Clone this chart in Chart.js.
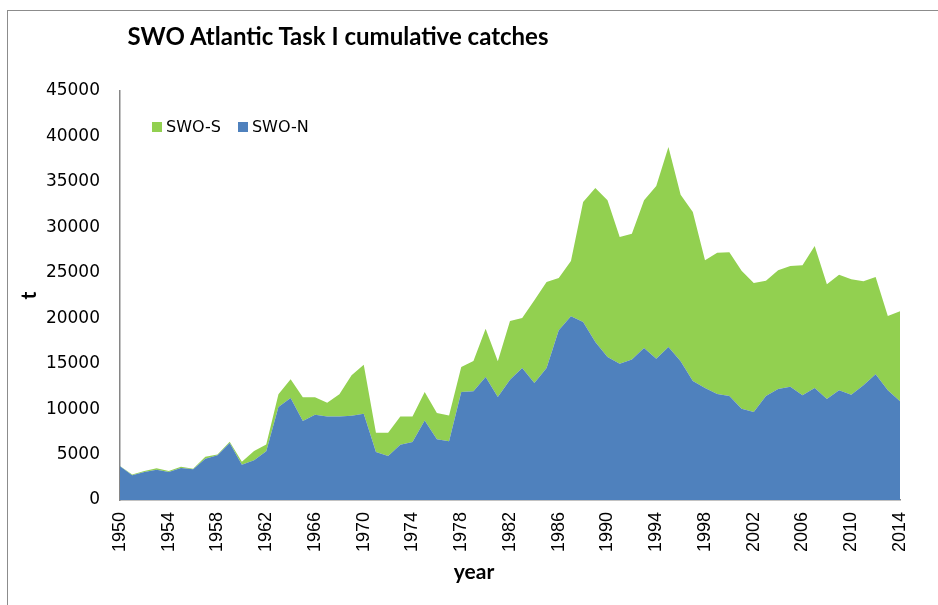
<!DOCTYPE html>
<html lang="en">
<head>
    <meta charset="UTF-8">
    <title>SWO Atlantic Task I cumulative catches</title>
    <script src="https://cdn.jsdelivr.net/npm/chart.js"></script>
    <style>
        body { margin: 0; background: #fff; overflow: hidden; }
        #wrap { position: relative; width: 938px; height: 605px; }
        #frame {
            position: absolute; left: 7px; top: 10px;
            width: 1000px; height: 700px;
            border: 1.5px solid #8c8c8c;
        }
        #chartTitle {
            position: absolute; left: 0; top: 21px; width: 676px;
            text-align: center;
            font: 700 24px Lato, sans-serif; color: #000;
        }
        #xTitle {
            position: absolute; left: 374px; top: 558px; width: 200px;
            text-align: center;
            font: 700 21px Lato, sans-serif; color: #000;
        }
        #legend {
            position: absolute; left: 152px; top: 117px;
            font: 16px 'DejaVu Sans', sans-serif; color: #000;
            display: flex; align-items: center; line-height: 20px;
        }
        #legend span.box { display: inline-block; width: 10px; height: 10px; margin-right: 4px; }
        #legend span.item { display: flex; align-items: center; margin-right: 17px; }
        #catchChart { position: absolute; left: 0; top: 0; }
    </style>
</head>
<body>
<div id="wrap">
    <div id="frame"></div>
    <canvas id="catchChart" width="938" height="605"></canvas>
    <div id="chartTitle">SWO Atlantic Task I cumulative catches</div>
    <div id="xTitle">year</div>
    <div id="legend"></div>
</div>

<script>
    // 연도
    const years = [
        '1950', '1951', '1952', '1953', '1954', '1955', '1956', '1957', '1958', '1959',
        '1960', '1961', '1962', '1963', '1964', '1965', '1966', '1967', '1968', '1969',
        '1970', '1971', '1972', '1973', '1974', '1975', '1976', '1977', '1978', '1979',
        '1980', '1981', '1982', '1983', '1984', '1985', '1986', '1987', '1988', '1989',
        '1990', '1991', '1992', '1993', '1994', '1995', '1996', '1997', '1998', '1999',
        '2000', '2001', '2002', '2003', '2004', '2005', '2006', '2007', '2008', '2009',
        '2010', '2011', '2012', '2013', '2014'
    ];

    // SWO-N (t)
    const swoN = [
        3710, 2720, 3080, 3340, 3080, 3520, 3370, 4550, 4910, 6270,
        3890, 4360, 5350, 10230, 11220, 8690, 9390, 9200, 9200, 9280,
        9500, 5280, 4840, 6090, 6380, 8760, 6680, 6460, 11880, 11960,
        13530, 11330, 13240, 14520, 12870, 14520, 18670, 20210, 19580, 17380,
        15730, 15000, 15460, 16720, 15550, 16830, 15260, 13090, 12320, 11660,
        11440, 10050, 9680, 11440, 12210, 12470, 11520, 12320, 11110, 12070,
        11590, 12620, 13830, 12070, 10860
    ];

    // SWO-S (t)
    const swoS = [
        40, 80, 120, 160, 120, 130, 80, 200, 90, 130,
        310, 1030, 770, 1400, 2060, 2610, 1910, 1510, 2430, 4440,
        5390, 2130, 2550, 3110, 2820, 3120, 2890, 2850, 2750, 3330,
        5320, 3930, 6450, 5500, 9100, 9460, 5750, 6090, 13210, 16950,
        17240, 13940, 13840, 16250, 19000, 22010, 18330, 18600, 14050, 15550,
        15810, 15180, 14190, 12690, 13060, 13280, 14300, 15630, 12620, 12720,
        12690, 11440, 10700, 8170, 9900
    ];

    const blue = '#4F81BD';
    const green = '#92D050';
    const axisGrey = '#868686';

    const ctx = document.getElementById('catchChart').getContext('2d');

    const chart = new Chart(ctx, {
        type: 'line',
        data: {
            labels: years,
            datasets: [
                {
                    label: 'SWO-N',
                    data: swoN,
                    backgroundColor: blue,
                    borderColor: blue,
                    borderWidth: 0,
                    pointRadius: 0,
                    tension: 0,
                    fill: 'origin'
                },
                {
                    label: 'SWO-S',
                    data: swoS,
                    backgroundColor: green,
                    borderColor: green,
                    borderWidth: 0,
                    pointRadius: 0,
                    tension: 0,
                    fill: '-1'
                }
            ]
        },
        options: {
            responsive: false,
            animation: false,
            layout: {
                padding: { left: 17, top: 91, right: 38, bottom: 0 }
            },
            plugins: {
                title: { display: false },
                tooltip: { enabled: false },
                legend: { display: false }
            },
            scales: {
                x: {
                    offset: false,
                    grid: { display: false, drawTicks: false },
                    border: { display: true, color: axisGrey, width: 1.5 },
                    ticks: {
                        autoSkip: false,
                        maxRotation: 90,
                        minRotation: 90,
                        padding: 12,
                        color: '#000',
                        font: { family: 'Liberation Sans', size: 18 },
                        callback: function (value, index) {
                            return index % 4 === 0 ? this.getLabelForValue(value) : null;
                        }
                    },
                    afterFit: (scale) => { scale.height = 105; }
                },
                y: {
                    stacked: true,
                    min: 0,
                    max: 45000,
                    grid: { display: false, drawTicks: false },
                    border: { display: true, color: axisGrey, width: 1.5 },
                    ticks: {
                        stepSize: 5000,
                        padding: 20,
                        color: '#000',
                        font: { family: 'DejaVu Sans', size: 17 },
                        callback: (value) => String(value)
                    },
                    title: {
                        display: true,
                        text: 't',
                        color: '#000',
                        font: { family: 'Lato', size: 21, weight: 'bold' },
                        padding: { top: 0, bottom: 0 }
                    },
                    afterFit: (scale) => { scale.width = 103; }
                }
            }
        }
    });

    // 범례 (SWO-S 먼저)
    const legendEl = document.getElementById('legend');
    chart.data.datasets.slice().reverse().forEach(ds => {
        const item = document.createElement('span');
        item.className = 'item';
        item.innerHTML = `<span class="box" style="background:${ds.backgroundColor}"></span>${ds.label}`;
        legendEl.appendChild(item);
    });
</script>
</body>
</html>
